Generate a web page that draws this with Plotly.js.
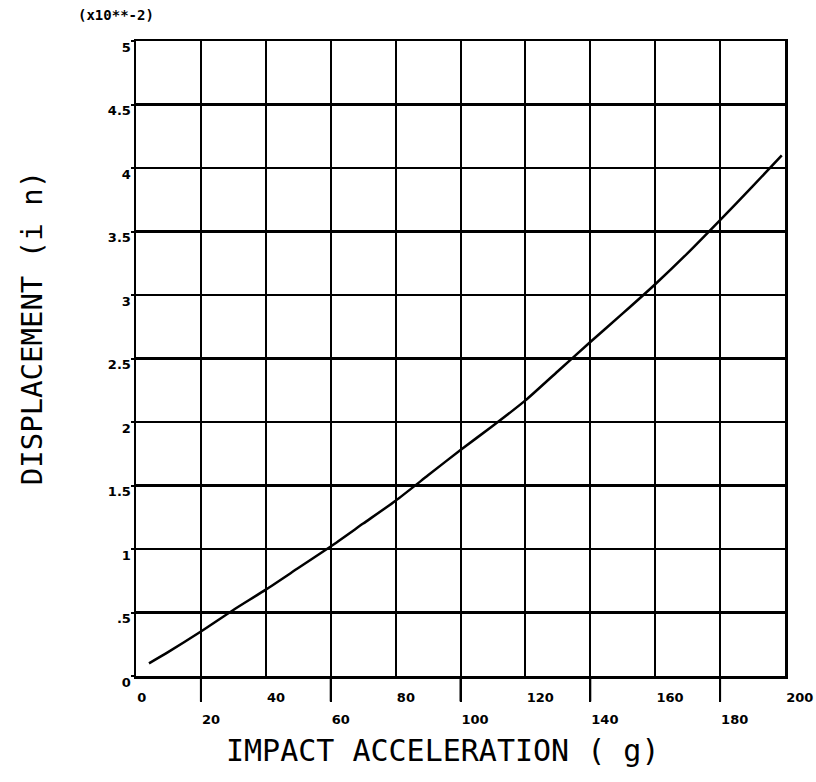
<!DOCTYPE html>
<html>
<head>
<meta charset="utf-8">
<script src="https://cdn.plot.ly/plotly-3.0.1.min.js"></script>
<style>html,body{margin:0;padding:0;background:#fff;}</style>
</head>
<body>
<div id="chart" style="width:816px;height:782px;"></div>
<script>
// Impact acceleration (g)
var accel = [4, 10, 20, 30, 40, 50, 60, 70, 80, 90, 100, 110, 120, 130, 140, 150, 160, 170, 180, 190, 199];
// Displacement (x10**-2 in)
var displacement = [0.10, 0.19, 0.35, 0.52, 0.68, 0.85, 1.02, 1.20, 1.38, 1.58, 1.78, 1.97, 2.17, 2.40, 2.63, 2.855, 3.085, 3.33, 3.59, 3.855, 4.10];

var xTicksRow1 = [0, 40, 80, 120, 160, 200];
var xLabelsRow1 = ["0", "40", "80", "120", "160", "200"];
var xTicksRow2 = [20, 60, 100, 140, 180];
var xLabelsRow2 = ["20", "60", "100", "140", "180"];
var yTicks = [0, 0.5, 1, 1.5, 2, 2.5, 3, 3.5, 4, 4.5, 5];
var yLabels = ["0", ".5", "1", "1.5", "2", "2.5", "3", "3.5", "4", "4.5", "5"];

var tickFont = {family: "DejaVu Sans", size: 13, color: "#000", weight: "bold"};

var traces = [
  {x: accel, y: displacement, type: "scatter", mode: "lines",
   line: {color: "#000", width: 2.5, shape: "spline", smoothing: 0.6}, xaxis: "x", yaxis: "y", hoverinfo: "skip", showlegend: false},
  {x: [], y: [], type: "scatter", mode: "lines", xaxis: "x2", yaxis: "y", showlegend: false}
];

// long tick marks below the axis for the lower label row
var tickShapes = xTicksRow2.map(function (v) {
  return {type: "line", xref: "x", yref: "paper", x0: v, x1: v, y0: 0, y1: -0.04,
          line: {color: "#000", width: 2}, layer: "above"};
});

var layout = {
  width: 816, height: 782,
  margin: {l: 136, r: 31, t: 41, b: 106},
  paper_bgcolor: "#fff", plot_bgcolor: "#fff",
  showlegend: false,
  xaxis: {
    range: [0, 200], tickmode: "array", tickvals: xTicksRow1, ticktext: xLabelsRow1,
    showgrid: true, gridcolor: "#000", gridwidth: 2,
    showline: true, linecolor: "#000", linewidth: 2.5, mirror: true,
    ticks: "", ticklabelposition: "outside right", ticklabelstandoff: 8,
    tickfont: tickFont, zeroline: false, fixedrange: true
  },
  xaxis2: {
    range: [0, 200], overlaying: "x", side: "bottom", anchor: "y",
    tickmode: "array", tickvals: xTicksRow2, ticktext: xLabelsRow2,
    showgrid: true, gridcolor: "#000", gridwidth: 2,
    showline: false,
    ticks: "outside", ticklen: 25, tickwidth: 2, tickcolor: "#000",
    ticklabelposition: "outside right", ticklabelstandoff: 31,
    tickfont: tickFont, zeroline: false, fixedrange: true
  },
  yaxis: {
    range: [0, 5], tickmode: "array", tickvals: yTicks, ticktext: yLabels,
    showgrid: true, gridcolor: "#000", gridwidth: 2.5,
    showline: true, linecolor: "#000", linewidth: 2.5, mirror: true,
    ticks: "outside", ticklen: 3, tickwidth: 2, tickcolor: "#000",
    ticklabelshift: 6, ticklabelstandoff: -3,
    tickfont: tickFont, zeroline: false, fixedrange: true
  },
  shapes: tickShapes,
  annotations: [
    {text: "IMPACT ACCELERATION ( g)", xref: "paper", yref: "paper", x: 0.473, y: -0.118,
     xanchor: "center", yanchor: "middle", showarrow: false,
     font: {family: "DejaVu Sans Mono", size: 30, color: "#000"}},
    {text: "DISPLACEMENT (i n)", xref: "paper", yref: "paper", x: -0.160, y: 0.548,
     xanchor: "center", yanchor: "middle", textangle: -90, showarrow: false,
     font: {family: "DejaVu Sans Mono", size: 29, color: "#000"}},
    {text: "(x10**-2)", xref: "paper", yref: "paper", x: -0.031, y: 1.041,
     xanchor: "center", yanchor: "middle", showarrow: false,
     font: {family: "DejaVu Sans Mono", size: 14, color: "#000", weight: "bold"}}
  ]
};

Plotly.newPlot("chart", traces, layout, {displayModeBar: false, staticPlot: true});
</script>
</body>
</html>
